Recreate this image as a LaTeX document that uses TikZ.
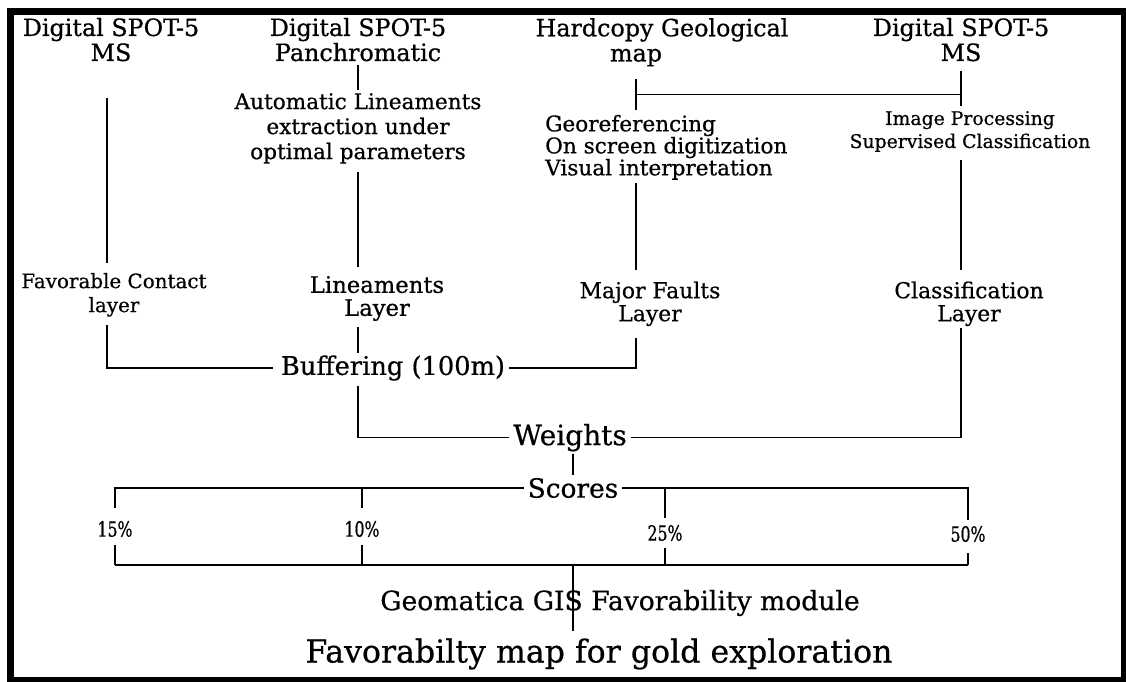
\documentclass[tikz,border=0pt]{standalone}
\usepackage{fontspec}
\setmainfont{DejaVu Serif}[FakeBold=0.6]
\newfontfamily\pctfont{DejaVu Serif}[FakeStretch=0.75,FakeBold=0.6]
\begin{document}
\begin{tikzpicture}[x=1pt,y=-1pt,
  conn/.style={line width=1.6pt},
  ttl/.style={align=center,inner sep=0pt,font=\fontsize{23.8}{25}\selectfont},
  body/.style={align=center,inner sep=0pt,font=\fontsize{21.6}{25}\selectfont},
  layer/.style={align=center,inner sep=0pt,font=\fontsize{21.9}{23}\selectfont},
  pct/.style={inner sep=0pt,font=\pctfont\fontsize{21}{22}\selectfont}]
\useasboundingbox (0,0) rectangle (1126,682);
\draw[line width=7pt] (10.5,11.5) rectangle (1124.5,680.5);

% top row
\node[ttl] (t1) at (111,39.6) {Digital SPOT-5\\MS};
\node[ttl] (t2) at (358,39.6) {Digital SPOT-5\\Panchromatic};
\node[ttl] (t3) at (662,29.9) {Hardcopy Geological};
\node[ttl] (t3m) at (636,57.6) {map};
\node[ttl] (t4) at (961,39.6) {Digital SPOT-5\\MS};

% second row
\node[body] (auto) at (358,128.4) {Automatic Lineaments\\extraction under\\optimal parameters};
\node[body,align=left,anchor=west,font=\fontsize{21.6}{22}\selectfont] (geo) at (545,147.4) {Georeferencing\\On screen digitization\\Visual interpretation};
\node[body,font=\fontsize{18.8}{23}\selectfont] (imgp) at (970,131.5) {Image Processing\\Supervised Classification};

% layers
\node[layer,font=\fontsize{19.9}{24}\selectfont] (fav) at (114,294.8) {Favorable Contact\\layer};
\node[layer,font=\fontsize{22.7}{23}\selectfont] (lin) at (377,298.5) {Lineaments\\Layer};
\node[layer] (maj) at (650,303.8) {Major Faults\\Layer};
\node[layer] (cls) at (969,303.8) {Classification\\Layer};

\node[inner sep=0pt,font=\fontsize{25.7}{28}\selectfont] (buf) at (393,368) {Buffering (100m)};
\node[inner sep=0pt,font=\fontsize{28}{30}\selectfont] (wts) at (570,437.6) {Weights};
\node[inner sep=0pt,font=\fontsize{26.4}{28}\selectfont] (scr) at (573,488) {Scores};

\node[pct] (p15) at (115,529) {15\%};
\node[pct] (p10) at (362,529) {10\%};
\node[pct] (p25) at (665,533) {25\%};
\node[pct] (p50) at (968,534) {50\%};

\node[inner sep=0pt,font=\fontsize{26.6}{30}\selectfont] (geom) at (620,603) {Geomatica GIS Favorability module};
\node[inner sep=0pt,font=\fontsize{31.6}{34}\selectfont] (fmap) at (599,654) {Favorabilty map for gold exploration};

% connectors
\draw[conn,shorten <=36pt,shorten >=10pt] (t1.south -| 107,0) -- (fav.north -| 107,0);
\draw[conn,shorten <=8pt,shorten >=8pt] (fav.south -| 107,0) |- (buf.west);
\draw[conn,shorten <=3pt,shorten >=3pt] (t2.south) -- (auto.north);
\draw[conn,shorten <=8pt,shorten >=9pt] (auto.south) -- (lin.north -| auto.south);
\draw[conn,shorten <=6pt,shorten >=2pt] (lin.south -| auto.south) -- (buf.north -| auto.south);
\draw[conn,shorten <=5pt,shorten >=4pt] (buf.south -| auto.south) |- (wts.west);
\draw[conn,shorten <=4pt,shorten >=12pt] (buf.east) -| (maj.south -| t3m.south);

% bracket
\path (t3m.south) ++(0,28) coordinate (bl);
\coordinate (br) at (bl -| t4.south);
\draw[conn] (bl) -- (br);
\draw[conn,shorten <=12.5pt,shorten >=4.6pt] (t3m.south) -- (geo.north -| t3m.south);
\draw[conn,shorten <=9pt,shorten >=5pt] (t4.south) -- (imgp.north -| t4.south);

\draw[conn,shorten <=3pt,shorten >=11pt] (geo.south -| t3m.south) -- (maj.north -| t3m.south);
\draw[conn,shorten <=8pt,shorten >=11pt] (imgp.south -| t4.south) -- (cls.north -| t4.south);
\draw[conn,shorten <=2pt,shorten >=4pt] (cls.south -| t4.south) |- (wts.east);

\draw[conn,shorten <=2pt,shorten >=3pt] (wts.south -| scr.north) -- (scr.north);
\draw[conn,shorten <=4pt,shorten >=13pt] (scr.west) -| (p15.north);
\draw[conn,shorten >=13pt] (scr.west -| p10.north) -- (p10.north);
\draw[conn,shorten <=4pt,shorten >=6pt] (scr.east) -| (p50.north);
\draw[conn,shorten >=7pt] (scr.east -| p25.north) -- (p25.north);

\path (p15.south) ++(0,28) coordinate (b15);
\draw[conn] (b15) -- (b15 -| p50.south);
\draw[conn,shorten <=8pt] (p15.south) -- (b15);
\draw[conn,shorten <=8pt] (p10.south) -- (p10.south |- b15);
\draw[conn,shorten <=7pt] (p25.south) -- (p25.south |- b15);
\draw[conn,shorten <=11pt] (p50.south) -- (p50.south |- b15);
\draw[conn,shorten >=7pt] (b15 -| scr.south) -- (fmap.north -| scr.south);
\end{tikzpicture}
\end{document}
